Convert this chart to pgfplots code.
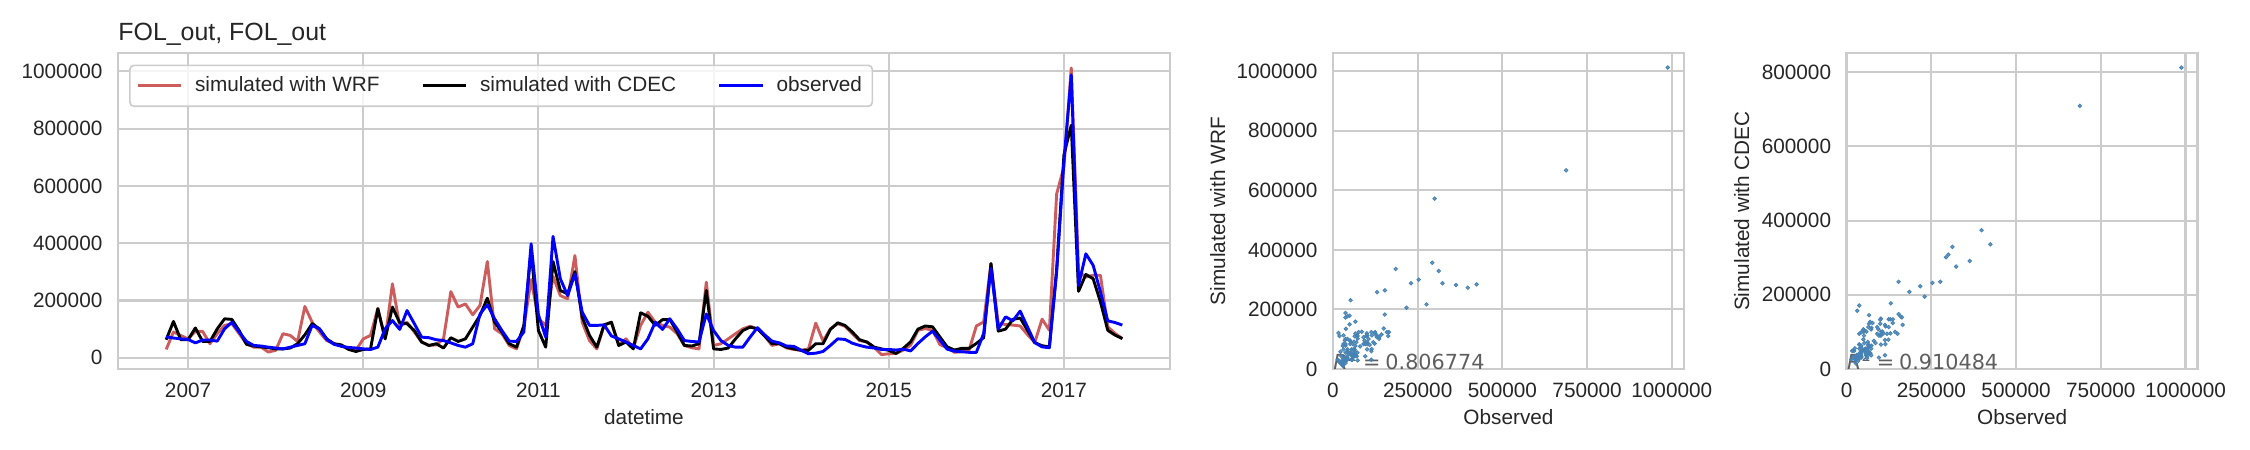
\documentclass[border=0pt]{standalone}
\usepackage{fontspec}
\setmainfont{Liberation Sans}
\newfontfamily\dejavu{DejaVu Sans}
\usepackage{pgfplots}
\usepackage{pgfplotstable}
\pgfplotsset{compat=1.18}
\definecolor{txt}{HTML}{262626}
\definecolor{gridc}{HTML}{CCCCCC}
\definecolor{wrfc}{RGB}{205,92,92}
\definecolor{obsc}{RGB}{0,0,255}
\definecolor{ptc}{RGB}{70,130,180}
\definecolor{r2c}{RGB}{77,77,77}

% i = month index from Oct 2006 (water years 2007-2017)
\pgfplotstableread{
i wrf cdec obs
0 29000 63000 73000
1 90000 127000 69000
2 78000 63000 66000
3 66000 63000 64000
4 92000 104000 52000
5 92000 57000 62000
6 49000 57000 62000
7 84000 101000 58000
8 113000 136000 101000
9 119000 134000 124000
10 84000 95000 90000
11 49000 47000 57000
12 37000 41000 43000
13 37000 38000 41000
14 20000 35000 37000
15 26000 31000 34000
16 84000 31000 31000
17 78000 34000 37000
18 57000 49000 43000
19 179000 80000 49000
20 124000 119000 113000
21 90000 101000 101000
22 60000 66000 64000
23 49000 49000 47000
24 41000 45000 40000
25 31000 29000 36000
26 26000 22000 34000
27 66000 29000 31000
28 78000 31000 29000
29 173000 171000 37000
30 66000 66000 101000
31 258000 177000 130000
32 110000 122000 99000
33 124000 119000 165000
34 90000 95000 119000
35 55000 55000 72000
36 43000 43000 70000
37 45000 49000 63000
38 66000 34000 60000
39 231000 70000 52000
40 177000 57000 43000
41 188000 66000 37000
42 150000 107000 49000
43 183000 148000 153000
44 336000 208000 185000
45 101000 124000 136000
46 84000 90000 95000
47 43000 49000 58000
48 31000 37000 57000
49 107000 113000 90000
50 273000 374000 398000
51 136000 95000 150000
52 113000 37000 72000
53 284000 336000 424000
54 217000 235000 276000
55 206000 223000 217000
56 357000 301000 293000
57 124000 142000 159000
58 60000 78000 113000
59 31000 37000 113000
60 113000 115000 115000
61 124000 124000 76000
62 45000 43000 66000
63 66000 55000 55000
64 34000 31000 43000
65 113000 157000 31000
66 159000 145000 66000
67 124000 113000 124000
68 113000 133000 99000
69 107000 134000 136000
70 84000 90000 101000
71 43000 43000 60000
72 35000 41000 57000
73 31000 49000 55000
74 264000 235000 153000
75 43000 31000 95000
76 49000 29000 60000
77 66000 34000 43000
78 84000 66000 37000
79 101000 95000 37000
80 110000 107000 72000
81 101000 101000 105000
82 76000 76000 80000
83 43000 49000 58000
84 49000 49000 52000
85 34000 37000 41000
86 29000 31000 40000
87 26000 26000 26000
88 31000 26000 14000
89 121000 49000 16000
90 58000 49000 22000
91 101000 99000 43000
92 119000 122000 66000
93 110000 113000 64000
94 84000 90000 51000
95 60000 63000 43000
96 55000 55000 37000
97 37000 37000 34000
98 11000 31000 29000
99 14000 26000 29000
100 15000 15000 27000
101 27000 33000 30000
102 44000 56000 24000
103 96000 100000 50000
104 102000 111000 73000
105 96000 108000 93000
106 46000 73000 62000
107 35000 38000 30000
108 19000 27000 23000
109 21000 33000 21000
110 27000 33000 19000
111 111000 50000 19000
112 125000 70000 85000
113 329000 329000 312000
114 120000 93000 100000
115 116000 100000 143000
116 114000 134000 129000
117 111000 139000 163000
118 81000 96000 108000
119 53000 53000 53000
120 135000 42000 38000
121 96000 38000 35000
122 572000 308000 300000
123 667000 709000 688000
124 1012000 812000 988000
125 300000 232000 253000
126 282000 291000 363000
127 288000 276000 323000
128 288000 195000 230000
129 108000 96000 129000
130 85000 79000 123000
131 67000 67000 114000
}\data

\pgfplotsset{
  sb/.style={
    scale only axis,
    axis line style={gridc, line width=1.25pt},
    grid=major,
    major grid style={gridc, line width=1pt},
    major tick length=0pt,
    tick style={draw=none},
    ticklabel style={font=\fontsize{10}{12}\selectfont, text=txt},
    /pgf/number format/fixed,
    /pgf/number format/precision=0,
    /pgf/number format/1000 sep={},
    /pgf/number format/assume math mode=true,
    scaled ticks=false,
    yticklabel style={xshift=-4pt},
    xticklabel style={yshift=-3.4pt},
    label style={font=\fontsize{10}{12}\selectfont, text=txt},
    xlabel style={at={(axis description cs:0.5,-0.177)}, anchor=base},
  },
  pts/.style={only marks, mark=*, mark size=0.85pt, color=ptc,
    mark options={draw=none, fill=ptc, fill opacity=0.8}},
}

\begin{document}
\begin{tikzpicture}
\path[use as bounding box] (0,0) rectangle (1084pt,216.8pt);

% time series
\begin{axis}[sb, at={(56.85pt,39pt)}, anchor=south west,
  width=506.8pt, height=152.2pt,
  xmin=2006.2, xmax=2018.21, ymin=-39400, ymax=1063800,
  xtick={2007,2009,2011,2013,2015,2017},
  ytick={0,200000,400000,600000,800000,1000000},
  xlabel={datetime},
  title={FOL\_out, FOL\_out},
  every axis title/.style={at={(axis description cs:0,1.039)}, anchor=base west,
    font=\fontsize{12}{14}\selectfont, text=txt, inner sep=0pt},
  legend columns=3, legend cell align=left,
  legend image code/.code={\draw[#1] (0pt,0pt) -- (21pt,0pt);},
  legend style={at={(0.0105,0.964)}, anchor=north west,
    draw=gridc, line width=0.8pt, rounded corners=2pt, fill=white, fill opacity=0.8,
    text opacity=1, font=\fontsize{10}{12}\selectfont, text=txt,
    inner xsep=3pt, inner ysep=3.5pt,
    /tikz/every odd column/.append style={column sep=4pt},
    /tikz/every even column/.append style={column sep=18pt}},
]
\addplot[wrfc, line width=1.4pt, line join=round] table[x expr=2006.75+\thisrow{i}/12, y=wrf]{\data};
\addlegendentry{simulated with WRF}
\addplot[black, line width=1.4pt, line join=round] table[x expr=2006.75+\thisrow{i}/12, y=cdec]{\data};
\addlegendentry{simulated with CDEC}
\addplot[obsc, line width=1.4pt, line join=round] table[x expr=2006.75+\thisrow{i}/12, y=obs]{\data};
\addlegendentry{observed}
\end{axis}

% scatter WRF
\begin{axis}[sb, at={(642.2pt,39pt)}, anchor=south west,
  width=169.1pt, height=152.2pt,
  xmin=0, xmax=1036000, ymin=0, ymax=1060300,
  xtick={0,250000,500000,750000,1000000},
  ytick={0,200000,400000,600000,800000,1000000},
  xlabel={Observed}, ylabel={Simulated with WRF},
  ylabel style={at={(axis description cs:-0.3075,0.5)}, anchor=base},
]
\addplot[pts] table[x=obs, y=wrf]{\data};
\node[anchor=base west, inner sep=0pt, text=r2c, text opacity=0.9, font=\dejavu\fontsize{10}{12}\selectfont]
  at (axis cs:0,0) {\textit{R}\textsuperscript{2}\hspace{2.4pt}=\hspace{2.4pt}0.806774};
\end{axis}

% scatter CDEC
\begin{axis}[sb, at={(889.7pt,39pt)}, anchor=south west,
  width=169.1pt, height=152.2pt,
  xmin=0, xmax=1036000, ymin=0, ymax=851000,
  xtick={0,250000,500000,750000,1000000},
  ytick={0,200000,400000,600000,800000},
  xlabel={Observed}, ylabel={Simulated with CDEC},
  ylabel style={at={(axis description cs:-0.278,0.5)}, anchor=base},
]
\addplot[pts] table[x=obs, y=cdec]{\data};
\node[anchor=base west, inner sep=0pt, text=r2c, text opacity=0.9, font=\dejavu\fontsize{10}{12}\selectfont]
  at (axis cs:0,0) {\textit{R}\textsuperscript{2}\hspace{2.4pt}=\hspace{2.4pt}0.910484};
\end{axis}
\end{tikzpicture}
\end{document}
